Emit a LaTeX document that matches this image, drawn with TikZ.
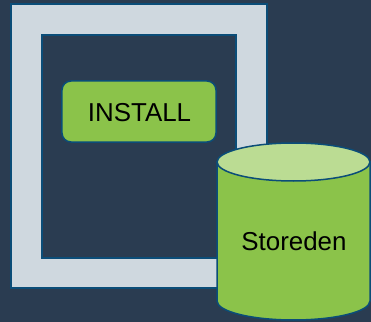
\documentclass[tikz,border=0pt]{standalone}
\usepackage{fontspec}
\setmainfont{Liberation Sans}
\definecolor{bgc}{HTML}{2A3C51}
\definecolor{framec}{HTML}{CFD8DF}
\definecolor{edgec}{HTML}{0B4D78}
\definecolor{greenc}{HTML}{8BC34A}
\definecolor{lgreenc}{HTML}{BBDC93}
\begin{document}
\begin{tikzpicture}[x=1bp,y=1bp,
  edge/.style={draw=edgec,line width=1.5bp},
  lbl/.style={font=\fontsize{26}{30}\selectfont,text=black,inner sep=0pt,anchor=base}]
\fill[bgc] (0,0) rectangle (371,322);
\useasboundingbox (0,0) rectangle (371,322);
% frame
\path[edge,fill=framec] (11,34) rectangle (267,318);
\path[edge,fill=bgc] (42,64) rectangle (236,287);
% install box
\node[edge,fill=greenc,rounded corners=9bp,minimum width=154bp,minimum height=61bp,inner sep=0pt] (inst) at (139,210.5) {};
\node[lbl] (instlbl) at (139.5,201) {INSTALL};
% cylinder
\path[edge,fill=greenc] (217,160) -- (217,21) arc[start angle=180,end angle=360,x radius=76.5bp,y radius=19bp] -- (370,160) -- cycle;
\path[edge,fill=lgreenc] (293.5,160) ellipse[x radius=76.5bp,y radius=19bp];
\node[lbl] (store) at (294,72) {Storeden};
\end{tikzpicture}
\end{document}
